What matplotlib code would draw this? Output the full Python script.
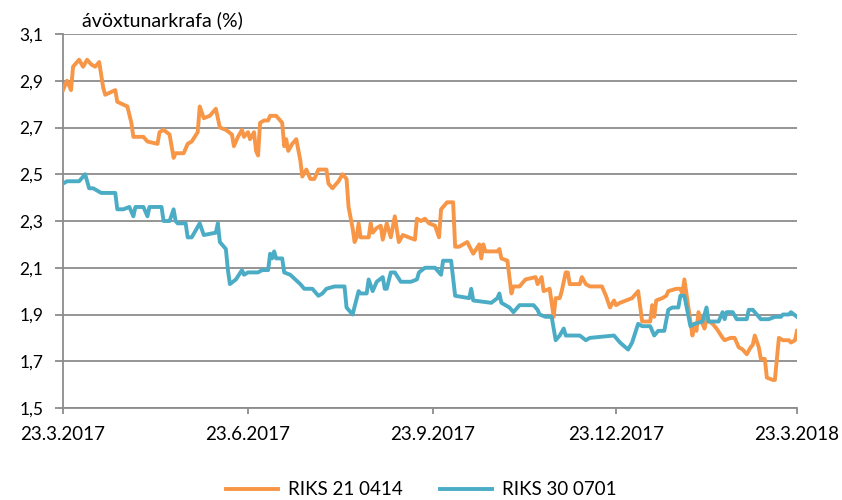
import pandas as pd
import matplotlib.pyplot as plt

start = pd.Timestamp('2017-03-23')

# RIKS 21 0414 (days from 23.3.2017, yield %)
riks21_days = [0, 2, 4, 5, 8, 10, 12, 14, 16, 18, 20, 21, 26, 27, 32, 34, 35, 40, 42, 47,
               48, 50, 53, 55, 56, 60, 62, 64, 67, 68, 70, 73, 76, 78, 81, 84, 85, 87, 89, 90,
               92, 93, 95, 96, 97, 98, 100, 102, 103, 106, 109, 110, 111, 112, 114, 116, 118, 119, 121, 123,
               125, 127, 131, 132, 134, 137, 139, 141, 142, 144, 145, 146, 147, 148, 152, 153, 154, 156, 158, 159,
               161, 163, 165, 167, 169, 172, 175, 176, 178, 180, 182, 185, 187, 188, 191, 194, 195, 197, 201, 204,
               207, 208, 209, 210, 216, 217, 218, 221, 223, 224, 227, 230, 235, 236, 238, 239, 242, 244, 245, 247,
               248, 250, 251, 252, 257, 258, 260, 262, 268, 270, 272, 274, 275, 277, 280, 283, 286, 288, 292, 293,
               294, 295, 298, 300, 301, 305, 307, 308, 309, 310, 313, 314, 315, 316, 318, 319, 320, 323, 325, 328,
               329, 332, 334, 336, 338, 340, 342, 343, 344, 346, 347, 349, 350, 353, 354, 356, 358, 361, 362, 364,
               365]
riks21_vals = [2.86, 2.90, 2.86, 2.96, 2.99, 2.96, 2.99, 2.97, 2.96, 2.98, 2.87, 2.84, 2.86, 2.81, 2.79, 2.72, 2.66, 2.66, 2.64, 2.63,
               2.68, 2.69, 2.67, 2.57, 2.59, 2.59, 2.63, 2.64, 2.68, 2.79, 2.74, 2.75, 2.78, 2.70, 2.69, 2.67, 2.62, 2.66, 2.69, 2.66,
               2.68, 2.65, 2.68, 2.60, 2.58, 2.72, 2.73, 2.73, 2.75, 2.75, 2.72, 2.62, 2.65, 2.60, 2.63, 2.65, 2.56, 2.49, 2.52, 2.48,
               2.48, 2.52, 2.52, 2.46, 2.44, 2.47, 2.50, 2.48, 2.36, 2.27, 2.21, 2.23, 2.29, 2.23, 2.23, 2.29, 2.25, 2.27, 2.28, 2.22,
               2.29, 2.23, 2.32, 2.21, 2.24, 2.23, 2.22, 2.31, 2.30, 2.31, 2.29, 2.28, 2.23, 2.35, 2.38, 2.38, 2.19, 2.19, 2.21, 2.16,
               2.20, 2.14, 2.20, 2.17, 2.17, 2.18, 2.14, 2.13, 1.99, 2.02, 2.02, 2.05, 2.06, 2.03, 2.06, 2.00, 2.01, 1.89, 1.97, 1.97,
               2.00, 2.08, 2.08, 2.03, 2.03, 2.06, 2.03, 2.02, 2.02, 1.98, 1.93, 1.96, 1.94, 1.95, 1.96, 1.97, 2.00, 1.87, 1.87, 1.94,
               1.89, 1.96, 1.97, 1.98, 2.00, 2.01, 2.01, 1.99, 2.05, 1.99, 1.81, 1.86, 1.83, 1.91, 1.86, 1.84, 1.88, 1.86, 1.84, 1.80,
               1.79, 1.80, 1.80, 1.76, 1.75, 1.73, 1.76, 1.77, 1.81, 1.76, 1.71, 1.71, 1.63, 1.62, 1.62, 1.80, 1.79, 1.79, 1.78, 1.79,
               1.83]

# RIKS 30 0701
riks30_days = [0, 2, 8, 10, 11, 13, 15, 19, 26, 27, 30, 33, 35, 36, 40, 42, 43, 49, 50, 53,
               55, 56, 57, 61, 62, 64, 68, 70, 76, 77, 78, 81, 82, 83, 86, 89, 90, 92, 97, 99,
               102, 103, 104, 105, 106, 109, 110, 113, 118, 120, 124, 127, 129, 131, 135, 140, 141, 144, 147, 148,
               151, 152, 154, 156, 159, 160, 161, 163, 165, 168, 173, 176, 177, 180, 185, 188, 189, 193, 195, 202,
               203, 204, 213, 216, 217, 218, 222, 224, 227, 234, 236, 237, 240, 243, 245, 247, 249, 250, 257, 260,
               262, 274, 277, 281, 283, 286, 288, 292, 294, 296, 299, 301, 303, 306, 307, 309, 312, 314, 318, 320,
               321, 326, 328, 329, 330, 333, 335, 340, 341, 343, 347, 351, 354, 357, 358, 361, 362, 365]
riks30_vals = [2.46, 2.47, 2.47, 2.49, 2.50, 2.44, 2.44, 2.42, 2.42, 2.35, 2.35, 2.36, 2.32, 2.36, 2.36, 2.32, 2.36, 2.36, 2.30, 2.30,
               2.35, 2.30, 2.29, 2.29, 2.23, 2.23, 2.29, 2.24, 2.25, 2.29, 2.21, 2.18, 2.09, 2.03, 2.05, 2.09, 2.07, 2.08, 2.08, 2.09,
               2.09, 2.16, 2.14, 2.17, 2.14, 2.14, 2.08, 2.07, 2.03, 2.01, 2.01, 1.98, 1.99, 2.01, 2.02, 2.02, 1.93, 1.90, 2.00, 1.99,
               1.99, 2.05, 2.00, 2.04, 2.06, 2.01, 2.01, 2.08, 2.08, 2.04, 2.04, 2.05, 2.08, 2.10, 2.10, 2.07, 2.13, 2.13, 1.98, 1.97,
               2.01, 1.96, 1.95, 1.97, 1.99, 1.95, 1.93, 1.91, 1.94, 1.94, 1.92, 1.90, 1.89, 1.89, 1.79, 1.81, 1.84, 1.81, 1.81, 1.79,
               1.80, 1.81, 1.78, 1.75, 1.78, 1.86, 1.85, 1.85, 1.81, 1.83, 1.83, 1.92, 1.93, 1.93, 1.98, 1.98, 1.85, 1.86, 1.87, 1.93,
               1.87, 1.87, 1.91, 1.88, 1.91, 1.91, 1.88, 1.88, 1.92, 1.92, 1.88, 1.88, 1.89, 1.89, 1.90, 1.90, 1.91, 1.89]

tick_dates = ['2017-03-23', '2017-06-23', '2017-09-23', '2017-12-23', '2018-03-23']
tick_labels = ['23.3.2017', '23.6.2017', '23.9.2017', '23.12.2017', '23.3.2018']
y_ticks = [1.5, 1.7, 1.9, 2.1, 2.3, 2.5, 2.7, 2.9, 3.1]

plt.rcParams['font.family'] = ['Lato', 'DejaVu Sans']

orange = '#F79646'
blue = '#4BACC6'
gridc = '#8C8C8C'

fig = plt.figure(figsize=(8.42, 5.0), dpi=100)
ax = fig.add_axes([63/842, 1 - 408/500, 734/842, 374/500])

d21 = start + pd.to_timedelta(riks21_days, unit='D')
d30 = start + pd.to_timedelta(riks30_days, unit='D')
ax.plot(d21, riks21_vals, color=orange, lw=2.8, solid_joinstyle='round', label='RIKS 21 0414', zorder=3)
ax.plot(d30, riks30_vals, color=blue, lw=2.8, solid_joinstyle='round', label='RIKS 30 0701', zorder=3)

ax.set_xlim(pd.Timestamp(tick_dates[0]), pd.Timestamp(tick_dates[-1]))
ax.set_ylim(1.5, 3.1)
ax.set_xticks(pd.to_datetime(tick_dates))
ax.set_xticklabels(tick_labels, fontsize=13.5)
ax.set_yticks(y_ticks)
ax.set_yticklabels([f'{v:.1f}'.replace('.', ',') for v in y_ticks], fontsize=12.5)

ax.grid(axis='y', color=gridc, lw=1.3, zorder=0)
ax.set_axisbelow(True)
for s in ['top', 'right']:
    ax.spines[s].set_visible(False)
for s in ['left', 'bottom']:
    ax.spines[s].set_color(gridc)
    ax.spines[s].set_linewidth(1.3)
ax.tick_params(axis='y', length=6, width=1.3, color=gridc, pad=8)
ax.tick_params(axis='x', length=4, width=1.3, color=gridc, pad=9)

ax.text(0.026, 1.012, 'ávöxtunarkrafa (%)', transform=ax.transAxes,
        fontsize=14, ha='left', va='bottom')

fig.legend(loc='lower center', bbox_to_anchor=(0.5, -0.03), ncol=2, frameon=False,
           fontsize=13.5, handlelength=2.8, handletextpad=0.5, columnspacing=2.0)

fig.savefig('out.png', dpi=100)
